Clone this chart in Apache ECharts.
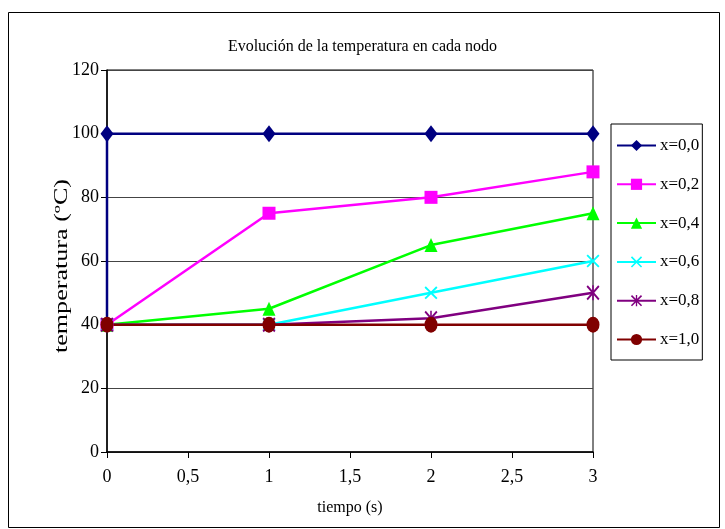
<!DOCTYPE html>
<html>
<head>
<meta charset="utf-8">
<script src="https://cdn.jsdelivr.net/npm/echarts@6/dist/echarts.min.js"></script>
<style>
  html, body { margin: 0; padding: 0; background: #fff }
  #chart { width: 725px; height: 529px }
</style>
</head>
<body>
<div id="chart"></div>
<script>
// datos
const seriesNames = ['x=0,0', 'x=0,2', 'x=0,4', 'x=0,6', 'x=0,8', 'x=1,0']
const nodo00 = [[0, 40], [0, 100], [1, 100], [2, 100], [3, 100]]
const nodo02 = [[0, 40], [1, 75], [2, 80], [3, 88]]
const nodo04 = [[0, 40], [1, 45], [2, 65], [3, 75]]
const nodo06 = [[0, 40], [1, 40], [2, 50], [3, 60]]
const nodo08 = [[0, 40], [1, 40], [2, 42], [3, 50]]
const nodo10 = [[0, 40], [1, 40], [2, 40], [3, 40]]

const colors = ['#000080', '#ff00ff', '#00ff00', '#00ffff', '#800080', '#800000']
const font = 'Liberation Serif'

const crossPath = 'path://M1,0 L5,4 L9,0 L10,1 L6,5 L10,9 L9,10 L5,6 L1,10 L0,9 L4,5 L0,1 Z'
const starPath = 'path://M1,0 L5,4 L9,0 L10,1 L6,5 L10,9 L9,10 L5,6 L1,10 L0,9 L4,5 L0,1 Z M4.4,0 L5.6,0 L5.6,10 L4.4,10 Z'
const ellipsePath = 'path://M5,0 A5,5 0 1,1 5,10 A5,5 0 1,1 5,0 Z'

const marks = [
  { symbol: 'diamond', size: [13, 17] },
  { symbol: 'rect', size: [13, 13] },
  { symbol: 'triangle', size: [13, 14] },
  { symbol: crossPath, size: [13, 13] },
  { symbol: starPath, size: [13, 15] },
  { symbol: ellipsePath, size: [13, 16] },
]
const allData = [nodo00, nodo02, nodo04, nodo06, nodo08, nodo10]

const chart = echarts.init(document.getElementById('chart'))
chart.setOption({
  animation: false,
  title: {
    text: 'Evolución de la temperatura en cada nodo',
    left: 'center', top: 34,
    textStyle: { fontFamily: font, fontSize: 16, fontWeight: 'normal', color: '#000' },
  },
  grid: { left: 107, right: 132, top: 70, bottom: 77, show: true, borderColor: '#000', borderWidth: 1 },
  legend: {
    orient: 'vertical', left: 611, top: 124,
    padding: [13, 3, 12, 5], itemGap: 21.8, itemWidth: 39, itemHeight: 14,
    borderColor: '#000', borderWidth: 1,
    textStyle: { fontFamily: font, fontSize: 17, color: '#000', padding: [0, 0, 0, -1] },
    data: seriesNames,
  },
  xAxis: {
    type: 'value', min: 0, max: 3, interval: 0.5,
    name: 'tiempo (s)', nameLocation: 'middle', nameGap: 48,
    nameTextStyle: { fontFamily: font, fontSize: 16, color: '#000' },
    axisLine: { lineStyle: { color: '#000', width: 1.5 } },
    axisTick: { show: true, length: 6, lineStyle: { color: '#000' } },
    axisLabel: { fontFamily: font, fontSize: 18, color: '#000', margin: 16, formatter: v => String(v).replace('.', ',') },
    splitLine: { show: false },
  },
  yAxis: {
    type: 'value', min: 0, max: 120, interval: 20,
    axisLine: { show: true, lineStyle: { color: '#000', width: 1.5 } },
    axisTick: { show: true, length: 6, lineStyle: { color: '#000' } },
    axisLabel: { fontFamily: font, fontSize: 18, color: '#000', margin: 8 },
    splitLine: { lineStyle: { color: '#444', width: 1 } },
  },
  series: allData.map((d, i) => ({
    name: seriesNames[i], type: 'line', data: d,
    symbol: marks[i].symbol, symbolSize: marks[i].size, symbolKeepAspect: false,
    showAllSymbol: true,
    lineStyle: { color: colors[i], width: 2.5 },
    itemStyle: { color: colors[i], borderWidth: 0 },
  })),
  graphic: [
    {
      type: 'rect', shape: { x: 8.5, y: 12.5, width: 711, height: 515 },
      style: { fill: 'none', stroke: '#000', lineWidth: 1 }, silent: true,
    },
    {
      // título del eje Y (más ancho que alto, como en el original)
      type: 'text', x: 62, y: 266, rotation: Math.PI / 2, scaleX: 1.45,
      style: { text: 'temperatura (ºC)', fontFamily: font, fontSize: 18, fill: '#000', align: 'center', verticalAlign: 'middle' },
      silent: true,
    },
  ],
})
</script>
</body>
</html>
